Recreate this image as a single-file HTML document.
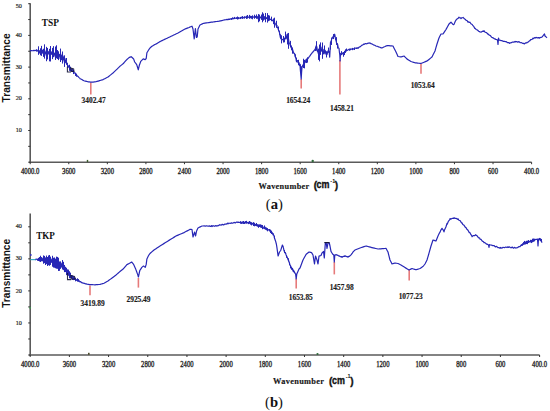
<!DOCTYPE html>
<html><head><meta charset="utf-8"><style>
html,body{margin:0;padding:0;background:#fff;width:550px;height:411px;overflow:hidden}
svg{display:block}
.xl{font-family:"Liberation Serif",serif;font-size:7.4px;fill:#1a1a1a;stroke:#1a1a1a;stroke-width:0.3}
.yl{font-family:"Liberation Serif",serif;font-size:6.2px;fill:#2a2a2a;stroke:#2a2a2a;stroke-width:0.2}
.nm{font-family:"Liberation Serif",serif;font-size:9.5px;font-weight:bold;fill:#111}
.pk{font-family:"Liberation Serif",serif;font-size:7.4px;font-weight:bold;fill:#1a1a1a;stroke:#1a1a1a;stroke-width:0.15}
.wn{font-family:"Liberation Serif",serif;font-size:8.3px;font-weight:bold;fill:#181818;stroke:#181818;stroke-width:0.15}
.cm{font-family:"Liberation Sans",sans-serif;font-size:10px;font-weight:bold;fill:#111;stroke:#111;stroke-width:0.35}
.sup{font-family:"Liberation Sans",sans-serif;font-size:5.5px;font-weight:bold;fill:#111}
.ab{font-family:"Liberation Serif",serif;font-size:14.6px;fill:#111}
.tr{font-family:"Liberation Sans",sans-serif;font-size:10.5px;font-weight:bold;fill:#111}
</style></head><body>
<svg width="550" height="411" viewBox="0 0 550 411">
<rect width="550" height="411" fill="#fff"/>
<line x1="30.2" y1="3.2" x2="30.2" y2="163.0" stroke="#5a5a5a" stroke-width="1.6"/>
<line x1="29.4" y1="162.2" x2="531.6" y2="162.2" stroke="#5a5a5a" stroke-width="1.6"/>
<line x1="28.2" y1="162.20" x2="30.2" y2="162.20" stroke="#333" stroke-width="1"/>
<line x1="28.2" y1="146.35" x2="30.2" y2="146.35" stroke="#333" stroke-width="1"/>
<line x1="28.2" y1="130.50" x2="30.2" y2="130.50" stroke="#333" stroke-width="1"/>
<line x1="28.2" y1="114.65" x2="30.2" y2="114.65" stroke="#333" stroke-width="1"/>
<line x1="28.2" y1="98.80" x2="30.2" y2="98.80" stroke="#333" stroke-width="1"/>
<line x1="28.2" y1="82.95" x2="30.2" y2="82.95" stroke="#333" stroke-width="1"/>
<line x1="28.2" y1="67.10" x2="30.2" y2="67.10" stroke="#333" stroke-width="1"/>
<line x1="28.2" y1="51.25" x2="30.2" y2="51.25" stroke="#333" stroke-width="1"/>
<line x1="28.2" y1="35.40" x2="30.2" y2="35.40" stroke="#333" stroke-width="1"/>
<line x1="28.2" y1="19.55" x2="30.2" y2="19.55" stroke="#333" stroke-width="1"/>
<line x1="28.2" y1="3.70" x2="30.2" y2="3.70" stroke="#333" stroke-width="1"/>
<line x1="30.20" y1="162.2" x2="30.20" y2="164.2" stroke="#333" stroke-width="1"/>
<text x="21.04" y="173.7" class="xl" textLength="18.32" lengthAdjust="spacingAndGlyphs">4000.0</text>
<line x1="68.77" y1="162.2" x2="68.77" y2="164.2" stroke="#333" stroke-width="1"/>
<text x="62.11" y="173.7" class="xl" textLength="13.32" lengthAdjust="spacingAndGlyphs">3600</text>
<line x1="107.34" y1="162.2" x2="107.34" y2="164.2" stroke="#333" stroke-width="1"/>
<text x="100.68" y="173.7" class="xl" textLength="13.32" lengthAdjust="spacingAndGlyphs">3200</text>
<line x1="145.91" y1="162.2" x2="145.91" y2="164.2" stroke="#333" stroke-width="1"/>
<text x="139.25" y="173.7" class="xl" textLength="13.32" lengthAdjust="spacingAndGlyphs">2800</text>
<line x1="184.48" y1="162.2" x2="184.48" y2="164.2" stroke="#333" stroke-width="1"/>
<text x="177.82" y="173.7" class="xl" textLength="13.32" lengthAdjust="spacingAndGlyphs">2400</text>
<line x1="223.05" y1="162.2" x2="223.05" y2="164.2" stroke="#333" stroke-width="1"/>
<text x="216.39" y="173.7" class="xl" textLength="13.32" lengthAdjust="spacingAndGlyphs">2000</text>
<line x1="261.62" y1="162.2" x2="261.62" y2="164.2" stroke="#333" stroke-width="1"/>
<text x="254.96" y="173.7" class="xl" textLength="13.32" lengthAdjust="spacingAndGlyphs">1800</text>
<line x1="300.18" y1="162.2" x2="300.18" y2="164.2" stroke="#333" stroke-width="1"/>
<text x="293.52" y="173.7" class="xl" textLength="13.32" lengthAdjust="spacingAndGlyphs">1600</text>
<line x1="338.75" y1="162.2" x2="338.75" y2="164.2" stroke="#333" stroke-width="1"/>
<text x="332.09" y="173.7" class="xl" textLength="13.32" lengthAdjust="spacingAndGlyphs">1400</text>
<line x1="377.32" y1="162.2" x2="377.32" y2="164.2" stroke="#333" stroke-width="1"/>
<text x="370.66" y="173.7" class="xl" textLength="13.32" lengthAdjust="spacingAndGlyphs">1200</text>
<line x1="415.89" y1="162.2" x2="415.89" y2="164.2" stroke="#333" stroke-width="1"/>
<text x="409.23" y="173.7" class="xl" textLength="13.32" lengthAdjust="spacingAndGlyphs">1000</text>
<line x1="454.46" y1="162.2" x2="454.46" y2="164.2" stroke="#333" stroke-width="1"/>
<text x="449.47" y="173.7" class="xl" textLength="9.99" lengthAdjust="spacingAndGlyphs">800</text>
<line x1="493.03" y1="162.2" x2="493.03" y2="164.2" stroke="#333" stroke-width="1"/>
<text x="488.04" y="173.7" class="xl" textLength="9.99" lengthAdjust="spacingAndGlyphs">600</text>
<line x1="531.60" y1="162.2" x2="531.60" y2="164.2" stroke="#333" stroke-width="1"/>
<text x="524.11" y="173.7" class="xl" textLength="14.99" lengthAdjust="spacingAndGlyphs">400.0</text>
<text x="21.9" y="8.00" class="yl" text-anchor="end">50</text>
<text x="21.9" y="37.00" class="yl" text-anchor="end">40</text>
<text x="21.9" y="68.70" class="yl" text-anchor="end">30</text>
<text x="21.9" y="100.40" class="yl" text-anchor="end">20</text>
<text x="21.9" y="132.10" class="yl" text-anchor="end">10</text>
<text x="41.8" y="25.8" class="nm" textLength="17.2" lengthAdjust="spacingAndGlyphs">TSP</text>
<line x1="30.2" y1="213.5" x2="30.2" y2="355.8" stroke="#5a5a5a" stroke-width="1.6"/>
<line x1="29.4" y1="355.0" x2="539.6" y2="355.0" stroke="#5a5a5a" stroke-width="1.6"/>
<line x1="28.2" y1="355.00" x2="30.2" y2="355.00" stroke="#333" stroke-width="1"/>
<line x1="28.2" y1="338.98" x2="30.2" y2="338.98" stroke="#333" stroke-width="1"/>
<line x1="28.2" y1="322.95" x2="30.2" y2="322.95" stroke="#333" stroke-width="1"/>
<line x1="28.2" y1="306.93" x2="30.2" y2="306.93" stroke="#333" stroke-width="1"/>
<line x1="28.2" y1="290.90" x2="30.2" y2="290.90" stroke="#333" stroke-width="1"/>
<line x1="28.2" y1="274.88" x2="30.2" y2="274.88" stroke="#333" stroke-width="1"/>
<line x1="28.2" y1="258.85" x2="30.2" y2="258.85" stroke="#333" stroke-width="1"/>
<line x1="28.2" y1="242.82" x2="30.2" y2="242.82" stroke="#333" stroke-width="1"/>
<line x1="28.2" y1="226.80" x2="30.2" y2="226.80" stroke="#333" stroke-width="1"/>
<line x1="30.20" y1="355.0" x2="30.20" y2="357.0" stroke="#333" stroke-width="1"/>
<text x="21.04" y="366.9" class="xl" textLength="18.32" lengthAdjust="spacingAndGlyphs">4000.0</text>
<line x1="69.38" y1="355.0" x2="69.38" y2="357.0" stroke="#333" stroke-width="1"/>
<text x="62.72" y="366.9" class="xl" textLength="13.32" lengthAdjust="spacingAndGlyphs">3600</text>
<line x1="108.57" y1="355.0" x2="108.57" y2="357.0" stroke="#333" stroke-width="1"/>
<text x="101.91" y="366.9" class="xl" textLength="13.32" lengthAdjust="spacingAndGlyphs">3200</text>
<line x1="147.75" y1="355.0" x2="147.75" y2="357.0" stroke="#333" stroke-width="1"/>
<text x="141.09" y="366.9" class="xl" textLength="13.32" lengthAdjust="spacingAndGlyphs">2800</text>
<line x1="186.94" y1="355.0" x2="186.94" y2="357.0" stroke="#333" stroke-width="1"/>
<text x="180.28" y="366.9" class="xl" textLength="13.32" lengthAdjust="spacingAndGlyphs">2400</text>
<line x1="226.12" y1="355.0" x2="226.12" y2="357.0" stroke="#333" stroke-width="1"/>
<text x="219.46" y="366.9" class="xl" textLength="13.32" lengthAdjust="spacingAndGlyphs">2000</text>
<line x1="265.31" y1="355.0" x2="265.31" y2="357.0" stroke="#333" stroke-width="1"/>
<text x="258.65" y="366.9" class="xl" textLength="13.32" lengthAdjust="spacingAndGlyphs">1800</text>
<line x1="304.49" y1="355.0" x2="304.49" y2="357.0" stroke="#333" stroke-width="1"/>
<text x="297.83" y="366.9" class="xl" textLength="13.32" lengthAdjust="spacingAndGlyphs">1600</text>
<line x1="343.68" y1="355.0" x2="343.68" y2="357.0" stroke="#333" stroke-width="1"/>
<text x="337.02" y="366.9" class="xl" textLength="13.32" lengthAdjust="spacingAndGlyphs">1400</text>
<line x1="382.86" y1="355.0" x2="382.86" y2="357.0" stroke="#333" stroke-width="1"/>
<text x="376.20" y="366.9" class="xl" textLength="13.32" lengthAdjust="spacingAndGlyphs">1200</text>
<line x1="422.05" y1="355.0" x2="422.05" y2="357.0" stroke="#333" stroke-width="1"/>
<text x="415.39" y="366.9" class="xl" textLength="13.32" lengthAdjust="spacingAndGlyphs">1000</text>
<line x1="461.23" y1="355.0" x2="461.23" y2="357.0" stroke="#333" stroke-width="1"/>
<text x="456.24" y="366.9" class="xl" textLength="9.99" lengthAdjust="spacingAndGlyphs">800</text>
<line x1="500.42" y1="355.0" x2="500.42" y2="357.0" stroke="#333" stroke-width="1"/>
<text x="495.42" y="366.9" class="xl" textLength="9.99" lengthAdjust="spacingAndGlyphs">600</text>
<line x1="539.60" y1="355.0" x2="539.60" y2="357.0" stroke="#333" stroke-width="1"/>
<text x="532.11" y="366.9" class="xl" textLength="14.99" lengthAdjust="spacingAndGlyphs">400.0</text>
<text x="21.9" y="228.40" class="yl" text-anchor="end">40</text>
<text x="21.9" y="260.45" class="yl" text-anchor="end">30</text>
<text x="21.9" y="292.50" class="yl" text-anchor="end">20</text>
<text x="21.9" y="324.55" class="yl" text-anchor="end">10</text>
<text x="36.2" y="239.2" class="nm" textLength="18.6" lengthAdjust="spacingAndGlyphs">TKP</text>
<line x1="90.8" y1="82.5" x2="90.8" y2="94.5" stroke="#e67a7a" stroke-width="1.6"/>
<line x1="301.2" y1="79" x2="301.2" y2="88.5" stroke="#e67a7a" stroke-width="1.6"/>
<line x1="339.9" y1="60" x2="339.9" y2="94.6" stroke="#e67a7a" stroke-width="1.6"/>
<line x1="421" y1="64" x2="421" y2="73.8" stroke="#e67a7a" stroke-width="1.6"/>
<line x1="90" y1="285.5" x2="90" y2="295.3" stroke="#e67a7a" stroke-width="1.6"/>
<line x1="138.4" y1="278" x2="138.4" y2="287.6" stroke="#e67a7a" stroke-width="1.6"/>
<line x1="296.2" y1="278.6" x2="296.2" y2="288.4" stroke="#e67a7a" stroke-width="1.6"/>
<line x1="334.3" y1="262" x2="334.3" y2="274.4" stroke="#e67a7a" stroke-width="1.6"/>
<line x1="409.2" y1="270" x2="409.2" y2="280.5" stroke="#e67a7a" stroke-width="1.6"/>
<path d="M30.00,50.83 L31.30,50.58 L32.60,50.74 L33.90,50.43 L34.00,50.61 L35.20,50.31 L36.50,50.87 L37.00,50.02 L37.80,51.19 L39.00,51.11 L39.10,53.20 L39.80,50.55 L40.50,53.58 L41.20,51.51 L41.90,53.44 L42.60,50.20 L43.30,53.38 L44.00,49.74 L44.70,55.52 L45.40,52.17 L46.00,53.70 L46.10,50.84 L46.80,56.18 L47.50,51.40 L48.20,54.13 L48.90,51.39 L49.60,53.61 L50.00,51.95 L50.30,54.61 L51.00,51.47 L51.70,54.36 L52.40,52.33 L53.00,54.54 L53.10,51.90 L53.80,54.91 L54.50,53.12 L55.20,56.74 L55.90,51.79 L56.00,56.45 L56.60,53.16 L57.30,57.97 L58.00,52.10 L58.70,56.25 L59.40,54.28 L60.10,58.42 L60.80,54.11 L61.50,59.53 L62.00,55.48 L62.20,59.67 L62.90,55.85 L63.60,59.78 L64.00,57.21 L64.30,61.78 L65.00,58.48 L65.70,62.76 L66.00,60.72 L66.40,63.18 L67.10,63.59 L68.00,67.12 L68.40,65.84 L69.70,68.45 L70.00,67.89 L71.00,70.16 L72.00,69.94 L72.30,71.18 L73.60,71.68 L74.00,72.96 L74.90,72.84 L76.00,74.85 L76.20,74.42 L77.50,76.25 L78.00,76.42 L78.80,77.37 L80.00,78.35 L80.10,78.74 L81.40,79.20 L82.70,80.11 L84.00,80.78 L85.30,81.12 L86.60,81.45 L87.90,81.78 L88.00,81.80 L89.20,81.96 L90.50,82.13 L91.00,82.20 L91.80,82.14 L93.10,82.04 L94.40,81.95 L95.00,81.90 L95.70,81.74 L97.00,81.43 L98.00,81.20 L98.30,81.10 L99.60,80.69 L100.90,80.27 L102.20,79.86 L103.00,79.60 L103.50,79.34 L104.80,78.66 L106.10,77.99 L107.40,77.31 L108.00,77.00 L108.70,76.44 L110.00,75.40 L111.30,74.36 L112.60,73.32 L113.00,73.00 L113.90,72.14 L115.20,70.91 L116.50,69.67 L117.00,69.20 L117.80,68.40 L119.10,67.10 L120.00,66.20 L120.40,65.88 L121.70,64.85 L123.00,63.82 L123.40,63.50 L124.30,62.47 L125.60,60.98 L126.80,59.60 L126.90,59.51 L128.20,58.33 L129.00,57.60 L129.50,57.40 L130.80,56.86 L131.20,56.70 L132.10,57.53 L133.40,58.72 L133.60,58.90 L134.70,62.00 L136.00,63.69 L136.70,64.60 L137.30,66.55 L138.30,69.80 L138.60,68.49 L139.40,65.00 L139.90,63.68 L140.80,61.30 L141.20,60.90 L142.50,59.60 L143.20,58.90 L143.80,59.11 L145.10,59.57 L145.20,59.60 L146.20,58.50 L146.40,56.87 L146.90,52.80 L147.70,51.48 L148.60,50.00 L149.00,49.43 L150.00,48.00 L150.30,47.73 L151.60,46.56 L152.00,46.20 L152.90,45.66 L154.00,45.00 L154.20,44.90 L155.50,44.25 L156.80,43.60 L157.00,43.50 L158.10,42.80 L159.40,41.98 L160.00,41.60 L160.70,41.27 L162.00,40.65 L163.30,40.03 L164.60,39.41 L165.90,38.80 L167.20,38.18 L168.00,37.80 L168.50,37.56 L169.80,36.94 L171.10,36.31 L172.40,35.69 L173.70,35.06 L175.00,34.44 L176.30,33.82 L177.60,33.19 L178.00,33.00 L178.90,32.49 L180.20,31.74 L181.50,31.00 L182.80,30.26 L184.10,29.51 L185.00,29.00 L185.40,28.85 L186.70,28.36 L188.00,27.88 L189.00,27.50 L189.30,27.37 L190.60,26.81 L191.90,26.24 L192.00,26.20 L193.00,29.00 L193.20,30.67 L194.20,39.00 L194.50,36.37 L195.40,28.50 L195.80,32.10 L196.40,37.50 L197.10,37.06 L197.20,37.00 L198.00,29.00 L198.40,28.20 L199.70,25.60 L200.00,25.00 L201.00,24.50 L202.30,23.85 L203.00,23.50 L203.60,23.39 L204.90,23.17 L206.20,22.94 L207.00,22.80 L207.50,22.73 L208.80,22.56 L210.10,22.39 L211.40,22.21 L212.70,22.04 L213.00,22.00 L214.00,21.87 L215.30,21.69 L216.60,21.52 L217.90,21.35 L219.00,21.20 L219.20,21.15 L220.50,20.85 L221.80,20.55 L223.10,20.24 L224.40,19.94 L225.00,19.80 L225.70,19.73 L227.00,19.31 L228.30,19.56 L229.00,18.96 L229.60,19.46 L230.90,18.70 L232.20,18.95 L233.00,17.98 L233.50,18.80 L234.80,18.03 L236.10,18.40 L237.40,17.74 L238.00,18.48 L238.70,17.82 L240.00,18.21 L241.30,17.08 L242.00,18.06 L242.60,16.98 L243.90,17.99 L245.20,16.96 L246.50,17.81 L247.80,16.89 L249.10,17.43 L250.40,16.46 L251.70,17.71 L253.00,16.80 L254.30,17.61 L255.60,16.46 L256.00,17.46 L256.90,16.58 L258.00,18.70 L258.20,16.18 L258.90,18.84 L259.60,16.54 L260.30,17.99 L261.00,16.98 L261.70,18.27 L262.40,16.56 L263.10,19.29 L263.80,16.37 L264.50,19.22 L265.20,16.46 L266.50,18.55 L267.80,16.64 L268.00,19.13 L269.10,18.20 L270.40,19.43 L271.70,19.66 L272.00,20.77 L273.00,20.23 L274.00,21.97 L274.30,20.80 L275.00,23.97 L275.70,23.92 L276.40,26.04 L277.00,25.44 L277.10,27.26 L277.80,27.75 L279.00,31.59 L279.10,30.97 L280.40,37.59 L281.00,38.51 L281.70,39.94 L283.00,39.16 L284.00,40.61 L284.30,38.99 L285.60,37.20 L286.00,34.59 L286.90,38.97 L287.60,38.40 L288.30,42.36 L288.50,38.71 L289.00,42.65 L289.70,43.39 L290.40,45.95 L291.10,46.02 L291.50,48.36 L292.40,48.92 L293.70,53.25 L294.50,53.28 L295.00,56.25 L296.00,58.37 L296.30,60.89 L297.60,60.62 L298.00,62.56 L298.90,62.35 L299.60,65.73 L300.00,64.24 L300.30,69.52 L301.20,79.00 L301.60,72.33 L302.00,67.44 L302.90,64.83 L303.60,66.47 L304.00,62.27 L304.30,64.36 L305.00,60.97 L305.70,62.15 L306.00,59.54 L307.00,60.66 L308.00,58.10 L308.30,58.28 L309.00,56.96 L309.60,56.37 L310.90,54.43 L312.00,53.16 L312.20,52.57 L313.50,51.44 L314.80,49.61 L315.00,49.84 L316.10,45.91 L316.50,48.75 L316.80,46.57 L317.50,51.59 L318.00,50.75 L318.20,53.13 L318.90,50.12 L319.50,55.06 L319.60,51.45 L320.30,51.73 L321.00,47.04 L321.70,51.25 L322.40,49.35 L323.00,53.38 L323.10,49.25 L323.80,54.00 L324.50,50.81 L325.00,51.67 L325.20,50.45 L325.90,54.08 L326.60,52.07 L327.00,54.71 L327.90,51.13 L328.50,50.85 L329.20,52.50 L329.70,57.09 L330.50,42.29 L331.50,40.22 L331.80,37.73 L333.00,38.17 L333.10,36.25 L334.40,35.82 L334.80,34.55 L335.70,39.79 L336.00,40.57 L337.00,44.70 L337.50,43.95 L338.30,47.97 L339.00,48.22 L339.60,53.75 L339.80,55.00 L340.10,61.00 L340.50,54.00 L340.90,53.38 L341.50,53.53 L342.20,52.89 L343.50,54.86 L344.80,51.60 L346.00,51.24 L346.10,49.78 L347.40,50.36 L348.70,49.39 L350.00,49.67 L351.30,49.05 L352.00,49.14 L352.60,48.40 L353.90,49.13 L355.20,48.02 L356.50,48.48 L357.80,47.71 L358.00,48.38 L359.10,47.05 L360.40,46.68 L361.70,45.38 L363.00,44.77 L364.00,43.85 L364.30,44.29 L365.60,43.52 L366.90,43.79 L368.20,43.16 L369.50,43.17 L370.00,42.84 L370.80,43.57 L372.10,44.01 L373.40,44.84 L374.70,45.30 L376.00,46.05 L377.30,46.27 L378.60,46.90 L379.90,47.25 L381.20,47.86 L382.00,47.94 L382.50,47.78 L383.80,47.06 L385.10,46.49 L386.00,45.91 L386.40,45.94 L387.70,45.66 L388.00,45.60 L389.00,45.68 L390.30,45.78 L391.60,45.89 L392.90,45.99 L393.00,46.00 L394.20,48.40 L395.00,50.00 L395.50,51.00 L396.00,52.00 L396.80,53.80 L398.00,56.50 L398.10,56.52 L399.40,56.73 L400.70,56.95 L401.00,57.00 L402.00,56.67 L403.30,56.23 L404.00,56.00 L404.60,56.60 L405.90,57.90 L407.00,59.00 L407.20,59.12 L408.50,59.94 L409.80,60.75 L411.00,61.50 L411.10,61.53 L412.40,61.95 L413.70,62.38 L415.00,62.80 L416.30,62.95 L417.60,63.10 L418.90,63.25 L420.20,63.41 L421.00,63.50 L421.50,63.29 L422.80,62.75 L424.10,62.21 L425.40,61.67 L426.70,61.13 L427.00,61.00 L428.00,60.20 L429.30,59.16 L430.60,58.12 L431.90,57.08 L432.00,57.00 L433.20,54.60 L434.50,52.00 L435.00,51.00 L435.80,48.20 L437.00,44.00 L437.10,43.70 L438.40,39.80 L439.00,38.00 L439.70,36.60 L441.00,34.00 L442.30,34.00 L443.00,34.00 L443.60,33.10 L444.90,31.15 L446.00,29.50 L446.20,29.13 L447.50,26.75 L448.80,24.37 L449.00,24.00 L450.10,23.01 L451.00,22.20 L451.40,22.59 L452.70,24.23 L453.50,24.62 L454.00,24.36 L455.30,21.24 L456.00,20.15 L456.60,19.28 L457.90,18.52 L459.00,17.22 L459.20,17.65 L460.50,17.95 L461.00,18.58 L461.80,17.76 L463.00,17.76 L463.10,17.37 L464.40,18.84 L465.70,19.66 L466.00,20.36 L467.00,20.52 L468.00,22.18 L468.30,21.80 L469.60,22.50 L470.00,22.24 L470.90,23.78 L472.20,24.46 L473.00,25.79 L473.50,25.97 L474.80,28.35 L475.00,28.26 L476.10,29.44 L477.40,30.03 L478.70,31.19 L480.00,31.84 L481.30,32.05 L482.60,31.14 L483.90,31.30 L484.00,30.73 L485.20,32.27 L486.50,32.68 L487.80,34.02 L488.00,33.83 L489.10,35.05 L490.40,35.58 L491.70,37.31 L493.00,37.83 L494.30,38.83 L495.00,38.76 L495.60,39.43 L496.90,39.70 L497.50,40.00 L498.00,44.50 L498.20,41.90 L498.50,38.00 L499.00,40.00 L499.50,40.16 L500.80,40.38 L501.00,40.65 L502.10,40.68 L503.40,41.34 L504.70,41.33 L505.00,41.59 L506.00,41.61 L507.30,42.53 L508.60,42.54 L509.50,43.43 L509.90,42.73 L511.20,42.79 L512.50,42.04 L513.80,42.19 L515.00,41.41 L515.10,41.88 L516.40,41.55 L517.70,42.15 L519.00,41.62 L520.30,42.77 L521.60,42.71 L522.90,43.43 L524.00,43.47 L524.20,43.98 L525.50,42.94 L526.80,42.93 L527.00,42.39 L528.10,42.12 L529.40,40.82 L530.00,40.67 L530.70,39.68 L532.00,39.49 L533.00,38.14 L533.30,38.73 L534.60,37.66 L535.90,37.82 L536.00,37.37 L537.20,37.80 L538.50,37.57 L539.80,38.08 L540.00,37.52 L541.10,37.43 L542.00,37.00 L542.40,36.52 L543.70,34.96 L544.50,34.00 L545.00,36.00 L546.30,37.17 L547.00,37.80" fill="none" stroke="#2727b6" stroke-width="1.2" stroke-linejoin="round"/>
<path d="M35.00,259.87 L36.30,259.07 L37.60,259.68 L38.00,259.29 L38.90,260.28 L40.20,258.01 L41.00,260.20 L41.50,258.37 L42.20,260.82 L42.90,258.04 L43.60,261.58 L44.00,259.14 L44.30,261.56 L45.00,258.83 L45.70,262.64 L46.40,257.70 L47.10,263.62 L47.80,259.06 L48.00,262.65 L48.50,259.80 L49.20,261.62 L49.90,260.42 L50.60,262.57 L51.00,259.78 L51.30,262.46 L52.00,258.83 L52.70,263.25 L53.40,260.04 L54.00,263.03 L54.10,261.49 L54.80,263.70 L55.50,261.86 L56.20,264.99 L56.90,260.17 L57.00,265.92 L57.60,262.73 L58.30,267.05 L59.00,261.90 L59.70,267.24 L60.00,262.21 L60.40,267.61 L61.10,263.13 L61.80,267.25 L62.50,263.50 L63.00,269.16 L63.20,265.88 L63.90,269.68 L64.60,266.37 L65.30,270.60 L66.00,268.48 L66.70,272.44 L67.40,269.96 L68.00,274.30 L68.10,271.25 L68.80,274.93 L69.50,273.26 L70.00,277.01 L70.20,274.74 L71.50,277.56 L72.00,275.71 L72.80,278.58 L74.00,277.86 L74.10,278.95 L75.40,278.77 L76.70,280.49 L77.00,279.74 L78.00,281.18 L79.30,280.90 L80.00,282.01 L80.60,281.58 L81.90,282.81 L83.00,282.79 L83.20,283.22 L84.50,283.38 L85.80,284.02 L86.00,283.93 L87.10,284.20 L88.40,284.36 L89.70,284.56 L90.00,284.60 L91.00,284.64 L92.30,284.69 L93.60,284.74 L94.90,284.80 L95.00,284.80 L96.20,284.70 L97.50,284.60 L98.80,284.50 L100.00,284.40 L100.10,284.37 L101.40,283.98 L102.70,283.59 L104.00,283.20 L105.30,282.49 L106.60,281.77 L107.90,281.06 L108.00,281.00 L109.20,280.10 L110.50,279.12 L111.80,278.15 L112.00,278.00 L113.10,277.18 L114.40,276.20 L115.70,275.23 L116.00,275.00 L117.00,274.12 L118.30,272.99 L119.60,271.85 L120.00,271.50 L120.90,270.79 L122.20,269.75 L123.40,268.80 L123.50,268.68 L124.80,267.11 L126.10,265.54 L126.80,264.70 L127.40,264.39 L128.70,263.71 L129.50,263.30 L130.00,262.99 L131.30,262.19 L131.60,262.00 L132.60,263.20 L133.60,264.40 L133.90,265.07 L135.20,267.98 L135.70,269.10 L136.50,271.30 L137.70,274.60 L137.80,274.94 L138.40,277.00 L139.10,273.75 L139.80,270.50 L140.40,269.57 L141.70,267.56 L141.80,267.40 L143.00,266.41 L143.50,266.00 L144.30,266.66 L145.20,267.40 L145.60,266.20 L146.20,264.40 L146.90,258.90 L148.20,256.30 L148.60,255.50 L149.50,254.21 L150.00,253.50 L150.80,252.80 L152.10,251.66 L153.40,250.53 L154.00,250.00 L154.70,249.53 L156.00,248.67 L157.30,247.80 L158.60,246.93 L159.90,246.07 L160.00,246.00 L161.20,245.25 L162.50,244.44 L163.80,243.62 L165.10,242.81 L166.40,242.00 L167.70,241.19 L168.00,241.00 L169.00,240.38 L170.30,239.56 L171.60,238.75 L172.90,237.94 L174.20,237.12 L175.50,236.31 L176.00,236.00 L176.80,235.66 L178.10,235.11 L179.40,234.56 L180.70,234.00 L182.00,233.45 L183.30,232.90 L184.00,232.60 L184.60,232.28 L185.90,231.59 L187.20,230.89 L188.50,230.20 L189.80,229.51 L190.00,229.40 L191.10,229.46 L192.00,229.50 L192.40,232.50 L193.00,237.00 L193.70,234.81 L194.60,232.00 L195.00,233.60 L195.60,236.00 L196.30,232.50 L196.60,231.00 L197.60,228.86 L198.00,228.00 L198.90,227.55 L200.20,226.90 L201.50,226.25 L202.00,226.00 L202.80,226.00 L204.10,225.96 L205.40,226.12 L206.70,225.73 L208.00,226.25 L209.30,225.89 L210.60,226.44 L211.90,225.54 L212.00,226.56 L213.20,225.72 L214.50,226.31 L215.80,225.61 L217.10,226.09 L218.00,225.35 L218.40,225.74 L219.70,224.72 L221.00,225.16 L222.30,224.37 L223.60,225.01 L224.90,223.99 L226.20,224.17 L227.50,223.15 L228.00,223.92 L228.80,223.04 L230.10,223.47 L231.40,222.90 L232.70,223.23 L234.00,222.44 L235.30,222.88 L236.60,221.99 L237.90,222.53 L238.00,221.93 L239.20,222.54 L240.50,222.17 L241.80,223.02 L243.10,222.23 L244.40,222.71 L245.70,221.90 L247.00,222.89 L248.00,222.32 L248.30,223.41 L249.60,222.63 L250.90,223.42 L252.00,223.04 L252.20,224.25 L253.50,223.28 L254.80,224.82 L256.00,224.55 L256.10,225.23 L257.40,224.81 L258.70,226.48 L260.00,225.22 L261.30,227.43 L262.60,226.25 L263.90,228.44 L265.00,227.25 L265.20,228.66 L266.50,228.39 L267.80,230.12 L269.10,229.61 L269.60,230.56 L270.40,230.52 L271.70,232.98 L272.00,232.26 L273.00,234.79 L274.00,235.58 L274.30,237.46 L275.60,241.20 L276.40,244.27 L276.90,247.45 L278.10,256.00 L278.20,255.71 L279.50,252.00 L280.70,250.50 L280.80,250.18 L282.10,245.97 L282.40,245.00 L283.30,247.00 L283.40,247.65 L284.00,250.57 L284.70,252.31 L285.80,253.65 L286.00,254.65 L287.30,257.44 L288.30,260.17 L288.60,260.55 L289.90,264.52 L290.90,266.42 L291.20,267.97 L292.50,268.75 L293.40,271.78 L293.80,270.87 L295.10,273.39 L295.60,274.00 L296.20,278.90 L296.40,277.27 L296.80,274.00 L297.70,271.95 L299.00,269.00 L300.00,268.00 L300.30,267.20 L301.60,263.73 L302.90,260.27 L303.00,260.00 L304.20,257.80 L305.50,255.42 L306.00,254.50 L306.80,253.83 L308.10,252.75 L309.00,252.00 L309.40,252.08 L310.70,252.34 L311.50,252.50 L312.00,253.33 L313.00,255.00 L313.30,256.80 L314.50,264.00 L314.60,263.20 L315.50,256.00 L315.90,257.07 L317.00,260.00 L317.20,260.80 L318.00,264.00 L318.50,260.00 L319.00,256.00 L319.80,255.80 L321.00,255.50 L321.10,255.25 L322.00,253.00 L322.40,252.60 L323.50,251.50 L323.70,253.12 L324.30,258.00 L325.00,247.85 L325.30,243.50 L326.20,243.00 L326.30,243.69 L327.00,248.50 L327.60,245.20 L328.00,243.00 L328.90,243.00 L329.30,243.00 L330.00,246.00 L330.20,247.08 L331.00,251.40 L331.50,252.21 L332.60,254.00 L332.80,254.17 L333.80,255.00 L334.10,259.20 L334.30,262.00 L334.80,255.00 L335.40,254.89 L336.40,254.70 L336.70,254.85 L338.00,255.41 L339.00,256.11 L339.30,255.91 L340.60,256.78 L341.90,256.60 L342.00,257.34 L343.20,256.43 L344.50,256.40 L345.00,255.73 L345.80,256.35 L347.10,256.61 L348.00,257.23 L348.40,256.62 L349.70,256.13 L351.00,254.90 L352.30,253.08 L353.00,252.00 L353.60,251.40 L354.90,250.10 L355.00,250.00 L356.20,249.52 L357.50,249.00 L358.80,248.48 L360.00,248.00 L360.10,247.97 L361.40,247.53 L362.70,247.10 L364.00,246.67 L365.30,246.23 L366.00,246.00 L366.60,246.16 L367.90,246.51 L369.20,246.85 L370.50,247.20 L371.80,247.55 L372.00,247.60 L373.10,247.86 L374.40,248.16 L375.70,248.46 L377.00,248.77 L378.00,249.00 L378.30,248.98 L379.60,248.88 L380.90,248.78 L382.20,248.69 L383.50,248.59 L384.80,248.49 L386.00,248.40 L386.10,248.58 L387.40,250.92 L388.00,252.00 L388.70,254.80 L390.00,260.00 L391.30,262.60 L392.00,264.00 L392.60,263.80 L393.90,263.37 L395.00,263.00 L395.20,263.03 L396.50,263.25 L397.80,263.47 L398.00,263.50 L399.10,264.05 L400.40,264.70 L401.00,265.00 L401.70,265.44 L403.00,266.25 L404.30,267.06 L405.00,267.50 L405.60,267.88 L406.90,268.69 L408.20,269.50 L409.00,270.00 L409.50,269.75 L410.80,269.10 L412.00,268.50 L412.10,268.53 L413.40,268.95 L414.70,269.38 L416.00,269.80 L417.30,269.38 L418.60,268.95 L419.90,268.53 L420.00,268.50 L421.20,267.70 L422.50,266.83 L423.00,266.50 L423.80,265.50 L425.00,264.00 L425.10,263.80 L426.40,261.20 L427.00,260.00 L427.70,257.67 L428.50,255.00 L429.00,253.20 L430.30,248.52 L431.00,246.00 L431.60,244.20 L432.90,240.30 L433.00,240.00 L434.20,240.40 L435.50,240.83 L436.00,241.00 L436.80,239.00 L438.00,236.00 L438.10,235.80 L439.40,233.07 L440.00,232.20 L440.70,230.40 L442.00,228.33 L443.30,230.03 L444.00,231.84 L444.60,229.69 L445.90,226.98 L447.00,223.49 L447.20,224.20 L448.50,221.07 L449.80,219.63 L450.00,218.67 L451.10,219.09 L452.40,218.28 L453.70,218.36 L454.00,217.66 L455.00,218.43 L456.30,218.43 L457.60,219.36 L458.00,218.74 L458.90,220.23 L460.20,220.69 L461.50,222.87 L462.00,222.77 L462.80,224.54 L464.10,225.36 L465.40,227.36 L466.00,227.59 L466.70,229.02 L468.00,230.26 L469.30,232.60 L470.00,232.60 L470.60,234.13 L471.90,235.93 L472.00,236.68 L473.20,235.66 L474.50,235.72 L475.80,234.71 L476.00,235.13 L477.10,235.87 L478.40,237.67 L479.70,238.18 L480.00,239.13 L481.00,239.41 L482.30,241.14 L483.60,241.70 L484.00,242.68 L484.90,242.67 L486.20,243.90 L487.50,244.36 L488.50,245.00 L488.80,246.50 L489.00,247.50 L489.50,244.50 L490.10,244.72 L491.40,245.07 L492.70,245.66 L494.00,245.52 L495.30,246.82 L496.60,246.33 L497.90,247.71 L499.20,247.62 L500.00,248.40 L500.50,247.49 L501.80,248.20 L503.10,247.29 L504.40,247.71 L505.70,246.98 L507.00,247.58 L508.00,246.78 L508.30,247.37 L509.60,246.89 L510.90,247.89 L512.20,247.06 L513.50,248.21 L514.80,247.37 L516.00,248.23 L516.10,247.76 L517.40,247.76 L518.70,246.70 L520.00,246.69 L521.30,244.80 L522.60,244.94 L523.90,242.47 L524.00,243.80 L525.20,242.48 L526.50,242.86 L527.80,241.18 L529.10,242.09 L530.00,241.11 L530.40,241.66 L531.70,240.68 L533.00,241.26 L534.00,239.07 L534.30,240.52 L535.60,239.40 L536.90,239.24 L537.50,239.00 L538.00,246.00 L538.20,243.20 L538.50,239.00 L539.50,238.73 L540.00,239.80 L540.80,239.39 L542.00,242.59" fill="none" stroke="#2727b6" stroke-width="1.2" stroke-linejoin="round"/>
<path d="M36.50,49.32V51.29M38.50,46.30V54.85M40.50,48.30V55.30M41.50,45.89V55.91M43.50,48.74V56.89M44.50,44.34V58.63M46.50,46.85V61.22M47.50,47.96V59.43M49.50,48.82V61.37M50.50,46.03V61.49M52.50,47.88V59.14M53.50,46.14V57.20M55.50,46.54V59.98M56.50,45.31V58.18M57.50,50.06V58.97M58.50,51.34V60.12M60.50,48.57V62.01M62.50,51.51V63.55M64.50,55.32V66.92M66.50,58.01V64.78M67.50,62.72V67.47M69.50,64.73V70.80M70.50,66.67V71.45M72.50,68.86V72.06M73.50,69.99V74.09M75.50,72.89V75.92M76.50,73.68V76.69M231.50,18.24V19.88M232.50,17.54V19.21M234.50,16.92V19.10M236.50,17.32V18.98M237.50,16.51V19.55M238.50,17.22V19.19M240.50,16.98V19.05M242.50,16.17V18.92M244.50,16.29V18.56M246.50,15.72V18.95M247.50,15.03V18.61M249.50,14.90V18.79M250.50,15.88V18.27M251.50,15.96V18.72M252.50,15.30V19.29M254.50,14.71V18.79M256.50,14.45V18.81M258.50,14.07V22.28M259.50,14.57V21.33M261.50,14.54V19.91M262.50,12.27V22.30M263.50,13.60V20.67M265.50,12.96V22.24M267.50,13.11V22.62M268.50,15.10V21.19M269.50,15.55V20.64M271.50,16.63V21.02M273.50,18.49V24.16M274.50,17.67V27.71M276.50,20.74V27.75M278.50,26.47V30.95M279.50,30.73V34.61M280.50,34.26V38.67M281.50,35.28V43.39M283.50,36.02V42.55M284.50,37.96V42.33M285.50,31.58V39.42M287.50,33.48V44.46M288.50,32.95V48.81M290.50,40.87V47.43M291.50,45.57V50.35M292.50,47.40V53.69M295.50,54.26V58.17M296.50,57.65V62.32M298.50,59.80V65.22M300.50,64.46V71.27M301.50,66.28V74.41M303.50,58.74V68.00M304.50,59.90V68.37M306.50,58.52V63.04M307.50,57.30V62.63M315.50,47.07V51.00M316.50,41.17V50.68M318.50,48.67V59.87M319.50,44.53V61.39M320.50,42.41V54.85M322.50,42.53V58.80M324.50,45.47V53.56M326.50,51.38V57.47M328.50,47.55V52.72M330.50,46.04V49.58M331.50,38.55V44.96M333.50,34.05V39.09M334.50,33.72V37.08M336.50,37.15V44.86M337.50,43.32V48.56M341.50,51.14V55.18M343.50,52.02V56.72M344.50,50.81V55.07M345.50,49.42V52.93M346.50,48.49V51.31M349.50,48.62V50.68M350.50,48.54V50.20M352.50,48.15V50.18M354.50,47.49V50.03M356.50,47.52V48.89M37.50,258.77V260.73M38.50,257.86V260.93M39.50,257.38V261.14M39.50,257.14V261.41M40.50,255.74V261.97M41.50,257.07V261.23M43.50,255.42V263.76M44.50,255.90V263.14M45.50,257.43V265.03M46.50,255.55V263.97M47.50,257.00V265.98M48.50,255.47V265.23M49.50,254.99V264.06M49.50,256.38V265.79M50.50,256.64V264.92M52.50,255.78V266.71M53.50,257.74V267.56M54.50,257.46V267.74M55.50,258.66V268.28M56.50,256.64V268.70M57.50,256.91V268.83M58.50,257.73V270.96M59.50,261.89V270.83M60.50,261.45V268.85M62.50,260.05V269.16M63.50,261.81V269.61M64.50,264.98V271.59M64.50,266.22V272.10M65.50,267.01V272.05M66.50,267.78V275.14M67.50,269.64V274.69M68.50,269.61V275.75M69.50,271.24V278.28M70.50,272.66V278.50M71.50,275.00V277.96M72.50,275.63V279.94M73.50,276.21V280.10M74.50,277.55V279.96M75.50,277.73V281.33M77.50,278.25V281.40M78.50,279.09V281.39M240.50,221.22V223.76M241.50,221.70V223.88M242.50,221.44V223.59M243.50,221.00V223.98M244.50,221.72V223.99M245.50,221.59V223.24M245.50,221.23V223.41M246.50,220.83V223.67M248.50,221.82V224.14M249.50,221.01V223.67M250.50,221.69V224.70M251.50,222.26V225.43M253.50,222.15V226.01M254.50,223.40V226.07M254.50,222.76V226.27M255.50,223.86V225.78M256.50,222.98V226.22M257.50,224.46V226.72M258.50,224.42V227.82M259.50,224.45V227.00M260.50,224.40V227.41M261.50,224.81V227.49M262.50,225.08V228.97M262.50,225.65V229.22M264.50,225.46V229.13M265.50,227.36V229.69M266.50,227.59V230.33M267.50,228.11V231.34M269.50,229.04V231.41M270.50,229.59V233.04M271.50,230.66V234.02M273.50,233.33V235.09M274.50,235.93V238.86M284.50,249.99V253.06M285.50,252.16V253.43M286.50,255.33V257.77M288.50,258.27V261.44M289.50,262.46V265.34M290.50,266.03V268.32M291.50,267.07V269.79M292.50,267.89V270.34M293.50,269.79V271.80M521.50,244.45V246.06M522.50,243.33V245.62M523.50,242.23V244.67M524.50,240.92V244.53M525.50,241.44V244.44M526.50,240.80V244.06M527.50,240.94V244.17M528.50,240.13V242.94M528.50,240.43V242.96M530.50,239.81V242.37M531.50,239.89V243.05M532.50,238.70V242.30M533.50,238.67V241.68M534.50,238.88V241.32M539.50,237.93V240.22M540.50,238.33V241.26M541.50,238.93V242.22" fill="none" stroke="#2727b6" stroke-width="1.0"/>
<rect x="86.8" y="159.9" width="1.4" height="2.2" fill="#3a5a2a"/>
<circle cx="312.7" cy="161" r="1.2" fill="#2f6a3a"/>
<rect x="88" y="352.8" width="1.6" height="2" fill="#4a4a2a"/>
<circle cx="317.5" cy="354" r="1.1" fill="#2f6a3a"/>
<rect x="29.4" y="307" width="1.4" height="1.6" fill="#3a9a4a"/>
<circle cx="30.8" cy="255" r="0.9" fill="#3030c0"/>
<path d="M67.4,66.8 V72 H71 M70.8,68 L73.6,69 L74,71.5 L71.5,71.5 Z" fill="none" stroke="#16163a" stroke-width="1.1" opacity="0.9"/>
<path d="M67.5,273 V279.6 H71.2 M70.8,275.5 L74.5,276.5 L75,279 L71.5,279 Z" fill="none" stroke="#16163a" stroke-width="1.1" opacity="0.9"/>
<path d="M324.3,242.6 H329.6" stroke="#16163a" stroke-width="1.2"/>
<line x1="30.5" y1="259.6" x2="35.5" y2="259.6" stroke="#3ab0c8" stroke-width="1.2"/>
<text x="93.6" y="103" class="pk" text-anchor="middle">3402.47</text>
<text x="298.2" y="103" class="pk" text-anchor="middle">1654.24</text>
<text x="342" y="111" class="pk" text-anchor="middle">1458.21</text>
<text x="422.7" y="88" class="pk" text-anchor="middle">1053.64</text>
<text x="92.6" y="306" class="pk" text-anchor="middle">3419.89</text>
<text x="138.5" y="302.3" class="pk" text-anchor="middle">2925.49</text>
<text x="300.8" y="300" class="pk" text-anchor="middle">1653.85</text>
<text x="341.7" y="289.8" class="pk" text-anchor="middle">1457.98</text>
<text x="410.7" y="299" class="pk" text-anchor="middle">1077.23</text>
<text x="258.6" y="188.5" class="wn" textLength="50.6" lengthAdjust="spacing">Wavenumber</text>
<text x="313.70" y="189.30" class="cm">(</text><text x="316.60" y="188.10" class="cm" textLength="12.9" lengthAdjust="spacingAndGlyphs">cm</text><text x="330.30" y="182.80" class="sup">-</text><text x="332.20" y="182.50" class="sup">1</text><text x="334.80" y="189.30" class="cm">)</text>
<text x="329.10" y="385.20" class="cm">(</text><text x="332.00" y="384.00" class="cm" textLength="12.9" lengthAdjust="spacingAndGlyphs">cm</text><text x="345.70" y="378.70" class="sup">-</text><text x="347.60" y="378.40" class="sup">1</text><text x="350.20" y="385.20" class="cm">)</text>
<text x="273" y="384.2" class="wn" textLength="51" lengthAdjust="spacing">Wavenumber</text>
<text x="265.8" y="209.2" class="ab">(<tspan font-weight="bold">a</tspan>)</text>
<text x="265.0" y="406.8" class="ab">(<tspan font-weight="bold">b</tspan>)</text>
<text transform="translate(10.3,67.9) rotate(-90)" class="tr" text-anchor="middle" textLength="69" lengthAdjust="spacingAndGlyphs">Transmittance</text>
<text transform="translate(9.9,273.3) rotate(-90)" class="tr" text-anchor="middle" textLength="69" lengthAdjust="spacingAndGlyphs">Transmittance</text>
</svg>
</body></html>
